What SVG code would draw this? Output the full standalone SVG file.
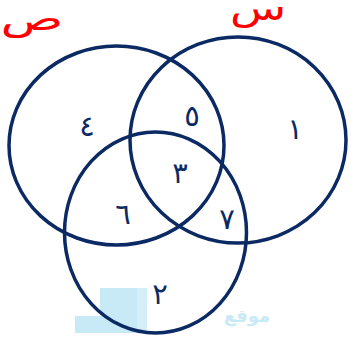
<svg xmlns="http://www.w3.org/2000/svg" width="351" height="337" viewBox="0 0 351 337">
<style>
.c{fill:none;stroke:#0b2a63;stroke-width:3.5}
.n{font-family:"DejaVu Sans",sans-serif;font-size:29px;fill:#0b2a63;text-anchor:middle}
.l{font-family:"DejaVu Sans",sans-serif;font-size:40px;fill:#ff0000;text-anchor:middle}
.w{fill:#c8e9f6}
</style>
<rect width="351" height="337" fill="#ffffff"/>
<g id="watermark">
<rect class="w" x="100" y="288" width="37" height="45"/>
<rect x="137" y="288" width="10" height="45" fill="#d4eef8"/>
<rect class="w" x="75" y="316" width="25" height="17"/>
<text x="247" y="322" font-family="DejaVu Sans,sans-serif" font-size="18" font-weight="bold" fill="#c8e9f6" text-anchor="middle">موقع</text>
</g>
<g id="connectors"></g>
<g id="set-sad"><ellipse class="c" cx="116.5" cy="145.5" rx="107.5" ry="99.5"/><text class="l" transform="translate(32,30) scale(1.3,0.85)">ص</text></g>
<g id="set-sin"><ellipse class="c" cx="238" cy="140" rx="108" ry="103"/><text class="l" transform="translate(258,20) scale(1.15,0.85)">س</text></g>
<g id="set-third"><ellipse class="c" cx="155.5" cy="232.5" rx="91" ry="100.5"/></g>
<g id="labels">
<text class="n" x="87" y="136">٤</text>
<text class="n" x="192" y="126">٥</text>
<text class="n" x="295" y="139">١</text>
<text class="n" x="180" y="183">٣</text>
<text class="n" x="123" y="224">٦</text>
<text class="n" x="227" y="229">٧</text>
<text class="n" x="160" y="304">٢</text>
</g>
</svg>
